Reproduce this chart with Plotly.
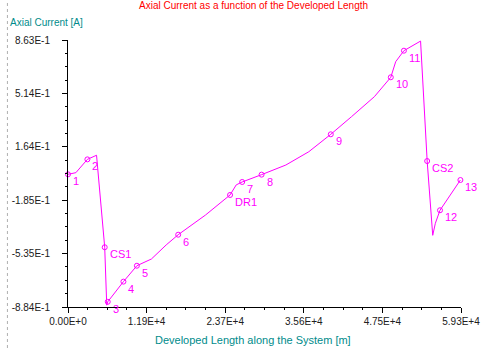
import plotly.graph_objects as go

# Axial current profile along the developed length of the system
length_m = [0, 1190, 2927, 4310, 5543, 5850, 6000, 8370, 10400, 12595, 14825,
            16640, 20770, 24470, 25400, 26300, 29230, 32890, 36360, 39680,
            42800, 46260, 48740, 49480, 50720, 53235, 54230, 55070, 55470,
            56170, 59250]
current_a = [-0.016, -0.005, 0.082, 0.109, -0.493, -0.872, -0.850, -0.718,
             -0.614, -0.570, -0.478, -0.411, -0.282, -0.151, -0.085, -0.066,
             -0.018, 0.045, 0.132, 0.246, 0.361, 0.492, 0.619, 0.721, 0.793,
             0.856, 0.071, -0.415, -0.336, -0.251, -0.053]

# Named stations along the route
station_names = ["1", "2", "CS1", "3", "4", "5", "6", "DR1", "7", "8", "9",
                 "10", "11", "CS2", "12", "13"]
station_x = [0, 2927, 5543, 6000, 8370, 10400, 16640, 24470, 26300, 29230,
             39680, 48740, 50720, 54230, 56170, 59250]
station_y = [-0.016, 0.082, -0.493, -0.850, -0.718, -0.614, -0.411, -0.151,
             -0.066, -0.018, 0.246, 0.619, 0.793, 0.071, -0.251, -0.053]

x_min, x_max = 0.0, 59340.0
y_min, y_max = -0.884, 0.863
n_div = 5
x_ticks = [x_min + i * (x_max - x_min) / n_div for i in range(n_div + 1)]
y_ticks = [y_min + i * (y_max - y_min) / n_div for i in range(n_div + 1)]


def sci(v):
    if abs(v) < 1e-12:
        return "0.00E+0"
    mant, exp = f"{v:.2E}".split("E")
    e = int(exp)
    return f"{mant}E{e:+d}" if e >= 0 else f"{mant}E{e}"


x_labels = [sci(v) for v in x_ticks]
y_labels = [sci(v) for v in y_ticks]

MAGENTA = "#ff00ff"
FONT = "Liberation Sans, Arial, sans-serif"

fig = go.Figure()
fig.add_trace(go.Scatter(
    x=length_m, y=current_a, mode="lines",
    line=dict(color=MAGENTA, width=1), hoverinfo="skip", showlegend=False))
fig.add_trace(go.Scatter(
    x=station_x, y=station_y, mode="markers",
    marker=dict(symbol="circle-open", size=5, color=MAGENTA,
                line=dict(width=1, color=MAGENTA)),
    showlegend=False, cliponaxis=False))

L, R, T, B = 62, 34, 40, 41
W, H = 495, 348
pw = W - L - R
ph = H - T - B

station_notes = [
    dict(text=name, x=sx, y=sy, xref="x", yref="y", showarrow=False,
         xanchor="left", yanchor="middle", xshift=3, yshift=-7,
         font=dict(family=FONT, size=11, color=MAGENTA))
    for name, sx, sy in zip(station_names, station_x, station_y)
]

fig.update_layout(
    width=W, height=H,
    margin=dict(l=L, r=R, t=T, b=B, pad=0),
    paper_bgcolor="white", plot_bgcolor="white",
    font=dict(family=FONT, size=10, color="#202020"),
    xaxis=dict(
        range=[x_min, x_max], tickmode="array", tickvals=x_ticks,
        ticktext=x_labels, showgrid=False, zeroline=False,
        showline=True, linecolor="black", linewidth=1,
        ticks="outside", ticklen=5, tickcolor="black",
        minor=dict(ticks="outside", ticklen=2, tick0=x_min,
                   dtick=(x_max - x_min) / (n_div * 4), tickcolor="black",
                   showgrid=False),
        tickfont=dict(size=10, color="#202020"),
    ),
    yaxis=dict(
        range=[y_min, y_max], tickmode="array", tickvals=y_ticks,
        ticktext=y_labels, showgrid=False, zeroline=False,
        showline=True, linecolor="black", linewidth=1,
        ticks="outside", ticklen=5, tickcolor="black",
        minor=dict(ticks="outside", ticklen=2, tick0=y_min,
                   dtick=(y_max - y_min) / (n_div * 4), tickcolor="black",
                   showgrid=False),
        tickfont=dict(size=10, color="#202020"),
        ticklabelstandoff=10,
    ),
    annotations=station_notes + [
        dict(text="Axial Current as a function of the Developed Length",
             xref="paper", yref="paper", x=(250 - L) / pw, y=1 + (T - 6) / ph,
             xanchor="center", yanchor="middle", showarrow=False,
             font=dict(family=FONT, size=10, color="#ff0000")),
        dict(text="Axial Current [A]",
             xref="paper", yref="paper", x=-(L - 1) / pw, y=1 + (T - 22) / ph,
             xanchor="left", yanchor="middle", showarrow=False,
             font=dict(family=FONT, size=10, color="#008b8b")),
        dict(text="Developed Length along the System [m]",
             xref="paper", yref="paper", x=(250 - L) / pw, y=-(340 - (H - B)) / ph,
             xanchor="center", yanchor="middle", showarrow=False,
             font=dict(family=FONT, size=11, color="#008b8b")),
    ],
    shapes=[
        dict(type="line", xref="paper", yref="paper",
             x0=-(L - 0.5) / pw, x1=-(L - 0.5) / pw,
             y0=-B / ph, y1=1 + T / ph,
             line=dict(color="#b0b0b0", width=1, dash="dot")),
    ],
)

fig.write_html("out.html")
